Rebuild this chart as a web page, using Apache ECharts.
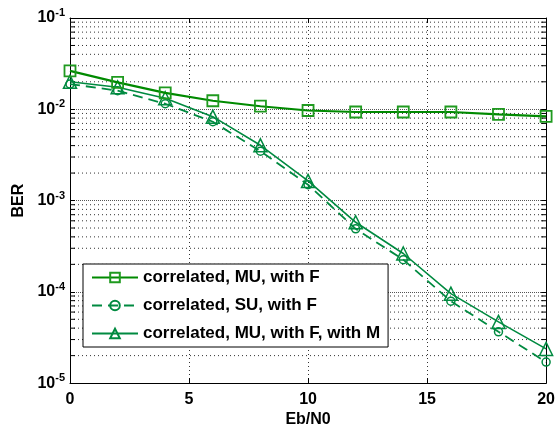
<!DOCTYPE html>
<html>
<head>
<meta charset="utf-8">
<script src="https://cdn.jsdelivr.net/npm/echarts@6/dist/echarts.min.js"></script>
<style>html,body{margin:0;padding:0;background:#fff;}#c{width:558px;height:433px;}</style>
</head>
<body>
<div id="c"></div>
<script>
const ebn0 = [0, 2, 4, 6, 8, 10, 12, 14, 16, 18, 20];
const berMuF = [0.0263, 0.0197, 0.0151, 0.0124, 0.0108, 0.0097, 0.00933, 0.00933, 0.00933, 0.0088, 0.00836];
const berSuF = [0.0189, 0.016, 0.0115, 0.0073, 0.00347, 0.00149, 0.00049, 0.000225, 0.000079, 0.0000365, 0.000017];
const berMuFM = [0.020, 0.0174, 0.0132, 0.0083, 0.00403, 0.00164, 0.000578, 0.000263, 0.0000955, 0.0000468, 0.0000237];
const seriesNames = ['correlated, MU, with F', 'correlated, SU, with F', 'correlated, MU, with F, with M'];
const minorMantissas = [2, 3, 4, 5, 6, 7, 8, 9];
const decadeExps = [-5, -4, -3, -2];

const minorVals = [];
decadeExps.forEach(e => minorMantissas.forEach(m => minorVals.push(m * Math.pow(10, e))));

const c1 = '#008a00';
const c1m = '#1f9a1f';
const c2 = '#008a40';

const font = 'Liberation Sans, Arial, Helvetica, sans-serif';

const chart = echarts.init(document.getElementById('c'), null, {renderer: 'canvas'});

function pairs(arr) { return ebn0.map((x, i) => [x, arr[i]]); }

// grid-line and minor-tick helpers (axis decoration, built from the axis values)
const gridData = [];
minorVals.forEach(v => { gridData.push([0, v], [20, v], [20, '-']); });
const tickData = [];
minorVals.forEach(v => {
  tickData.push([0, v], [0.21, v], [0.21, '-']);
  tickData.push([19.79, v], [20, v], [20, '-']);
});

const option = {
  backgroundColor: '#fff',
  animation: false,
  grid: {left: 70, right: 10, top: 18, bottom: 45, containLabel: false},
  xAxis: [{
    type: 'value', min: 0, max: 20, interval: 5,
    name: 'Eb/N0', nameLocation: 'middle', nameGap: 22,
    nameTextStyle: {fontFamily: font, fontSize: 16, fontWeight: 'bold', color: '#000', verticalAlign: 'top'},
    axisLine: {show: true, onZero: false, lineStyle: {color: '#000', width: 1}},
    axisTick: {show: true, inside: true, length: 5, lineStyle: {color: '#000'}},
    axisLabel: {fontFamily: font, fontSize: 16, fontWeight: 'bold', color: '#000', margin: 8},
    splitLine: {show: true, lineStyle: {color: '#333', type: [1, 3], width: 1}}
  }, {
    type: 'value', min: 0, max: 20, interval: 5, position: 'top',
    axisLine: {show: true, onZero: false, lineStyle: {color: '#000', width: 1}},
    axisTick: {show: true, inside: true, length: 5, lineStyle: {color: '#000'}},
    axisLabel: {show: false}, splitLine: {show: false}
  }],
  yAxis: [{
    type: 'log', logBase: 10, min: 1e-5, max: 1e-1,
    name: 'BER', nameLocation: 'middle', nameGap: 42, nameRotate: 90,
    nameTextStyle: {fontFamily: font, fontSize: 16, fontWeight: 'bold', color: '#000'},
    axisLine: {show: true, onZero: false, lineStyle: {color: '#000', width: 1}},
    axisTick: {show: true, inside: true, length: 5, lineStyle: {color: '#000'}},
    axisLabel: {
      margin: 5,
      formatter: function (v) {
        const e = Math.round(Math.log10(v));
        return '{b|10}{s|' + e + '}';
      },
      rich: {
        b: {fontFamily: font, fontSize: 16, fontWeight: 'bold', color: '#000'},
        s: {fontFamily: font, fontSize: 11, fontWeight: 'bold', color: '#000', padding: [0, 0, 10, 0]}
      }
    },
    splitLine: {show: true, lineStyle: {color: '#555', type: [1, 1], width: 1}}
  }, {
    type: 'log', logBase: 10, min: 1e-5, max: 1e-1, position: 'right',
    axisLine: {show: true, onZero: false, lineStyle: {color: '#000', width: 1}},
    axisTick: {show: true, inside: true, length: 5, lineStyle: {color: '#000'}},
    axisLabel: {show: false}, splitLine: {show: false}
  }],
  legend: {
    left: 83, top: 264,
    orient: 'vertical',
    data: seriesNames,
    backgroundColor: '#fff',
    borderColor: '#000', borderWidth: 1,
    padding: [5, 8, 5, 8],
    itemWidth: 46, itemHeight: 12, itemGap: 11,
    textStyle: {fontFamily: font, fontSize: 17, fontWeight: 'bold', color: '#000'},
    selectedMode: false
  },
  series: [{
    name: 'minorGrid', type: 'line', data: gridData, silent: true, z: 1,
    symbol: 'none', connectNulls: false,
    lineStyle: {color: '#333', type: [1, 3], width: 1}
  }, {
    name: 'minorTicks', type: 'line', data: tickData, silent: true, z: 1,
    symbol: 'none', connectNulls: false,
    lineStyle: {color: '#000', type: 'solid', width: 1}
  }, {
    name: seriesNames[0], type: 'line', data: pairs(berMuF), z: 5,
    symbol: 'rect', symbolSize: 11,
    lineStyle: {color: c1, width: 2.2},
    itemStyle: {color: 'rgba(0,0,0,0)', borderColor: c1m, borderWidth: 1.8}
  }, {
    name: seriesNames[1], type: 'line', data: pairs(berSuF), z: 4,
    symbol: 'circle', symbolSize: 8,
    lineStyle: {color: c2, width: 1.8, type: [10, 6]},
    itemStyle: {color: 'rgba(0,0,0,0)', borderColor: c2, borderWidth: 1.5}
  }, {
    name: seriesNames[2], type: 'line', data: pairs(berMuFM), z: 4,
    symbol: 'triangle', symbolSize: 13,
    lineStyle: {color: c2, width: 1.6},
    itemStyle: {color: 'rgba(0,0,0,0)', borderColor: c2, borderWidth: 1.5}
  }]
};
chart.setOption(option);
</script>
</body>
</html>
